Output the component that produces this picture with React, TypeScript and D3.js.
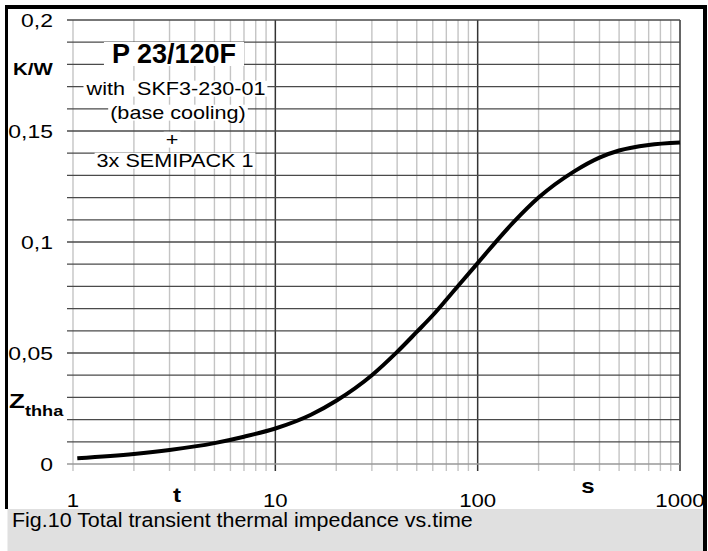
import React, { useEffect, useRef } from 'react';
import * as d3 from 'd3';

// curve
const times = [1.05, 2, 3, 5, 7, 10, 15, 20, 30, 40, 50, 60, 70, 80, 100, 150, 200, 300, 400, 500, 700, 1000];
const zth = [0.0026, 0.0045, 0.0063, 0.0094, 0.0123, 0.016, 0.0222, 0.0285, 0.04, 0.0505, 0.0595, 0.067, 0.074, 0.0802, 0.0905, 0.1088, 0.12, 0.1318, 0.138, 0.1412, 0.1437, 0.1448];

const xTicks = [1, 10, 100, 1000];
const xTickLabels = ['1', '10', '100', '1000'];
const yTicks = [0, 0.05, 0.1, 0.15, 0.2];
const yTickLabels = ['0', '0,05', '0,1', '0,15', '0,2'];

const noteLines = ['with  SKF3-230-01', '(base cooling)', '+', '3x SEMIPACK 1'];
const noteTitle = 'P 23/120F';
const caption = 'Fig.10 Total transient thermal impedance vs.time';

const W = 708;
const H = 551;
const FONT = '"Liberation Sans", Arial, sans-serif';

const App = () => {
  const svgRef = useRef<SVGSVGElement | null>(null);

  useEffect(() => {
    const svg = d3.select(svgRef.current);
    svg.selectAll('*').remove();
    svg.attr('width', W).attr('height', H);

    const left = 73, right = 680, top = 20, bottom = 464;
    const x = d3.scaleLog().domain([1, 1000]).range([left, right]);
    const y = d3.scaleLinear().domain([0, 0.2]).range([bottom, top]);

    svg.append('rect').attr('width', W).attr('height', H).attr('fill', '#fff');

    // caption box
    svg.append('rect').attr('x', 7.5).attr('y', 509).attr('width', 696).attr('height', H - 509).attr('fill', '#e0e0e0');

    const addText = (str, px, py, opts: any = {}) => {
      const { size = 18, bold = false, anchor = 'start', sx = 1.2, box = null } = opts;
      const g = svg.append('g').attr('transform', `translate(${px},${py}) scale(${sx},1)`);
      const t = g.append('text')
        .attr('text-anchor', anchor)
        .attr('font-family', FONT)
        .attr('font-size', size)
        .attr('font-weight', bold ? 'bold' : 'normal')
        .style('white-space', 'pre')
        .text(str);
      if (box) {
        const bb = (t.node() as SVGTextElement).getBBox();
        g.insert('rect', 'text')
          .attr('x', bb.x - box[0] / sx)
          .attr('y', bb.y + box[1])
          .attr('width', bb.width + (2 * box[0]) / sx)
          .attr('height', bb.height - box[1] - box[2])
          .attr('fill', '#fff');
      }
      return t;
    };

    // vertical grid
    const minor: number[] = [];
    [1, 10, 100].forEach((d) => {
      for (let k = 2; k <= 9; k++) minor.push(k * d);
    });
    svg.append('g').selectAll('line').data(minor).enter().append('line')
      .attr('x1', (d) => x(d)).attr('x2', (d) => x(d))
      .attr('y1', top).attr('y2', bottom + 7)
      .attr('stroke', '#c4c4c4').attr('stroke-width', 1.4);
    svg.append('g').selectAll('line').data(xTicks).enter().append('line')
      .attr('x1', (d) => x(d)).attr('x2', (d) => x(d))
      .attr('y1', top).attr('y2', bottom + 7)
      .attr('stroke', (d) => (d === 1 ? '#c4c4c4' : '#333'))
      .attr('stroke-width', (d) => (d === 1 ? 1.4 : 1.5));

    // horizontal grid
    const hLines = d3.range(0, 21).map((i) => i / 100);
    svg.append('g').selectAll('line').data(hLines).enter().append('line')
      .attr('x1', left - 6).attr('x2', right)
      .attr('y1', (d) => y(d)).attr('y2', (d) => y(d))
      .attr('stroke', (d) => (d === 0 ? '#999' : '#4a4a4a'))
      .attr('stroke-width', 1.3);

    // note box
    addText(noteTitle, 174, 63, { size: 27, bold: true, anchor: 'middle', sx: 1, box: [8, 3, 3] });
    const noteX = [176, 178, 172, 175];
    const noteY = [95, 119, 146, 167];
    noteLines.forEach((s, i) => {
      addText(s, noteX[i], noteY[i], { size: 18, anchor: 'middle', box: [2, 2, 2] });
    });

    // curve
    const pts = times.map((t, i) => [t, zth[i]] as [number, number]);
    const line = d3.line<[number, number]>()
      .x((d) => x(d[0]))
      .y((d) => y(d[1]))
      .curve(d3.curveMonotoneX);
    svg.append('path').datum(pts).attr('d', line)
      .attr('fill', 'none').attr('stroke', '#000').attr('stroke-width', 4);

    // tick labels
    yTicks.forEach((v, i) => addText(yTickLabels[i], 53, y(v) + 6.5, { size: 18.5, anchor: 'end', sx: 1.24 }));
    xTicks.forEach((v, i) => addText(xTickLabels[i], x(v), 507, { size: 18.5, anchor: 'middle', sx: 1.2 }));

    // axis titles
    addText('K/W', 13, 75, { size: 17, bold: true });
    const z = addText('Z', 9, 408, { size: 20, bold: true, sx: 1.3 });
    z.append('tspan').attr('font-size', 14).attr('dy', 8).text('thha');
    addText('t', 177, 502, { size: 20, bold: true, anchor: 'middle' });
    addText('s', 588, 493, { size: 20, bold: true, anchor: 'middle' });

    addText(caption, 12, 527, { size: 19.5, sx: 1.1 });

    // frame
    svg.append('rect').attr('x', 5).attr('y', 5).attr('width', 702).attr('height', 4).attr('fill', '#000');
    svg.append('rect').attr('x', 5).attr('y', 5).attr('width', 3).attr('height', 504).attr('fill', '#000');
    svg.append('rect').attr('x', 703).attr('y', 5).attr('width', 4).attr('height', H - 5).attr('fill', '#000');
  }, []);

  return (
    <svg ref={svgRef} style={{ position: 'absolute', left: 0, top: 0 }}></svg>
  );
};

export default App;
